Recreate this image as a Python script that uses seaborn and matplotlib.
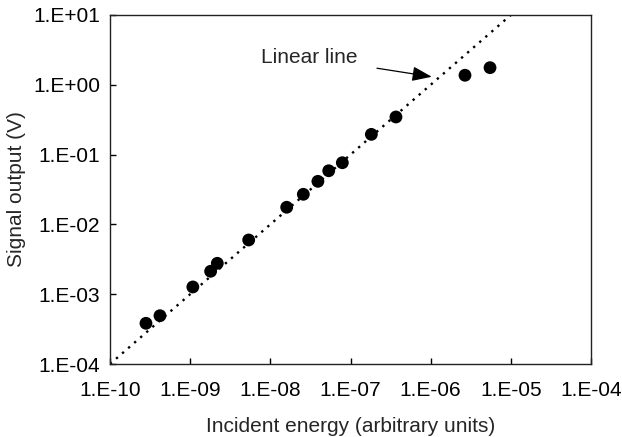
import matplotlib
matplotlib.use("Agg")
import matplotlib.pyplot as plt
import seaborn as sns
import numpy as np
import pandas as pd

# Data
energy = [2.81e-10, 4.2e-10, 1.08e-9, 1.80e-9, 2.18e-9, 5.37e-9, 1.60e-8, 2.58e-8,
          3.92e-8, 5.35e-8, 7.91e-8, 1.82e-7, 3.69e-7, 2.68e-6, 5.50e-6]
signal = [3.83e-4, 4.92e-4, 1.27e-3, 2.13e-3, 2.77e-3, 5.98e-3, 1.76e-2, 2.70e-2,
          4.14e-2, 5.87e-2, 7.65e-2, 0.195, 0.346, 1.37, 1.76]
line_x = [1e-10, 1e-5]
line_y = [1e-4, 1e1]
x_ticks = [1e-10, 1e-9, 1e-8, 1e-7, 1e-6, 1e-5, 1e-4]
x_tick_labels = ["1.E-10", "1.E-09", "1.E-08", "1.E-07", "1.E-06", "1.E-05", "1.E-04"]
y_ticks = [1e-4, 1e-3, 1e-2, 1e-1, 1e0, 1e1]
y_tick_labels = ["1.E-04", "1.E-03", "1.E-02", "1.E-01", "1.E+00", "1.E+01"]

sns.set_style("white")
plt.rcParams['font.family'] = ['Liberation Sans', 'DejaVu Sans']

fig = plt.figure(figsize=(6.22, 4.37), dpi=100)
ax = fig.add_axes([110/622, 1-364/437, 481/622, 349/437])

df_pts = pd.DataFrame({"energy": energy, "signal": signal})
df_line = pd.DataFrame({"x": line_x, "y": line_y})

sns.lineplot(data=df_line, x="x", y="y", ax=ax, color="black",
             linestyle=(0, (1, 2.4)), linewidth=1.7, zorder=2)
sns.scatterplot(data=df_pts, x="energy", y="signal", ax=ax, color="black",
                s=85, edgecolor="none", zorder=3)

ax.set_xscale("log")
ax.set_yscale("log")
ax.set_xlim(1e-10, 1e-4)
ax.set_ylim(1e-4, 1e1)
ax.set_xticks(x_ticks)
ax.set_xticklabels(x_tick_labels)
ax.set_yticks(y_ticks)
ax.set_yticklabels(y_tick_labels)
ax.minorticks_off()

fs = 15.0
ax.tick_params(axis="both", direction="in", length=4.5, width=1.0,
               labelsize=fs, colors="black", bottom=True, left=True)
ax.tick_params(axis="x", pad=12)
ax.tick_params(axis="y", pad=7)
for s in ax.spines.values():
    s.set_color("#222222")
    s.set_linewidth(1.0)

ax.set_xlabel("Incident energy (arbitrary units)", fontsize=fs, labelpad=12.5)
ax.set_ylabel("Signal output (V)", fontsize=fs)
ax.yaxis.set_label_coords(-0.174, 0.5)

ax.annotate("Linear line", xy=(0.669, 0.823), xycoords="axes fraction",
            xytext=(0.514, 0.878), textcoords="axes fraction",
            ha="right", va="center", fontsize=fs,
            arrowprops=dict(arrowstyle="-|>,head_length=0.8,head_width=0.3",
                            color="black", lw=0.9, shrinkA=12, shrinkB=0))

fig.savefig("out.png", dpi=100)
